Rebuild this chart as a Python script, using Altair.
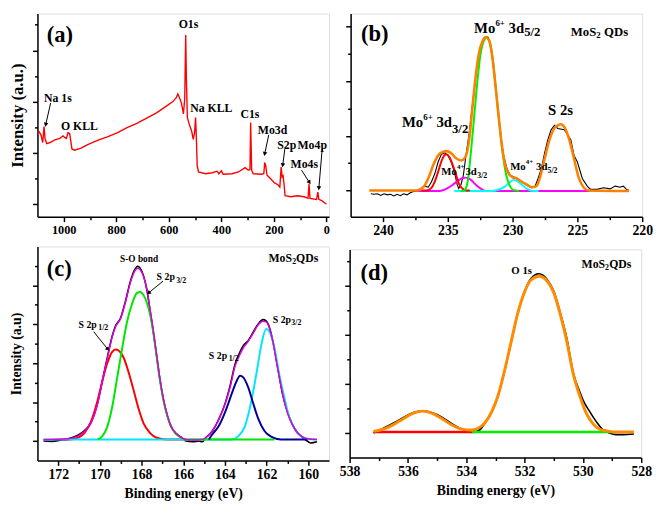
import altair as alt
import pandas as pd

FONT = "Liberation Serif"

# ---------------- (a) survey spectrum ----------------
A_SURVEY = [(1100, 2.39), (1093.6, 2.41), (1086.1, 2.34), (1079.9, 2.20), (1074.9, 2.51), (1071.1, 2.28),
            (1064.9, 2.18), (1052.4, 2.20), (1033.7, 2.25), (1014.9, 2.28), (1002.5, 2.33), (996.2, 2.30),
            (990.0, 2.28), (983.7, 2.39), (977.5, 2.375), (973.8, 2.25), (968.8, 2.075), (958.8, 2.05),
            (933.8, 2.09), (908.8, 2.16), (871.4, 2.24), (833.9, 2.31), (796.5, 2.39), (759.0, 2.49),
            (721.6, 2.575), (684.1, 2.675), (646.7, 2.78), (609.2, 2.91), (584.2, 3.0), (571.7, 3.075),
            (565.5, 3.15), (559.3, 3.075), (551.8, 2.97), (544.3, 2.76), (539.3, 3.06), (535.6, 4.30),
            (533.0, 3.44), (529.3, 2.69), (521.8, 2.55), (513.1, 2.425), (506.9, 2.26), (501.9, 2.39),
            (498.1, 2.69), (495.6, 2.375), (491.9, 1.75), (486.9, 1.625), (459.4, 1.59), (434.4, 1.61),
            (415.7, 1.64), (409.5, 1.59), (399.5, 1.65), (393.2, 1.58), (359.5, 1.59), (334.6, 1.625),
            (309.6, 1.71), (297.1, 1.66), (290.9, 1.675), (288.4, 2.59), (284.6, 1.66), (278.4, 1.59),
            (247.2, 1.58), (238.4, 1.59), (234.7, 1.81), (231.0, 1.75), (226.0, 1.56), (216.0, 1.51),
            (197.2, 1.41), (184.8, 1.375), (177.3, 1.33), (172.3, 1.72), (168.5, 1.53), (164.8, 1.55),
            (161.0, 1.375), (157.3, 1.16), (134.8, 1.14), (109.9, 1.16), (84.9, 1.14), (69.9, 1.11),
            (66.2, 1.39), (62.4, 1.11), (37.5, 1.09), (32.5, 1.23), (28.7, 1.09), (16.2, 1.06),
            (3.7, 1.01), (0.0, 1.0)]
A_LABELS_CENTER = [("Na 1s", 1022, 3.0, 12), ("O KLL", 940, 2.45, 12), ("O1s", 525, 4.43, 12),
                   ("Na KLL", 438, 2.80, 12), ("C1s", 291, 2.675, 12), ("Mo3d", 205, 2.363, 12),
                   ("S2p", 151, 2.075, 12), ("Mo4p", 54, 2.075, 12), ("Mo4s", 84, 1.70, 12)]
A_LABELS_LEFT = [("(a)", 1064.7, 4.156, 23)]
A_ARROWS = [(1050, 2.97, 1068, 2.56, 193), (219.5, 2.35, 234.4, 1.99, 192), (158.4, 2.07, 165.9, 1.77, 187),
            (94.7, 1.66, 65.9, 1.43, 147), (16.1, 2.07, 28.5, 1.32, 185)]

# ---------------- (b) Mo 3d ----------------
B_EXP = [(240.94, -0.06), (240.68, -0.07), (240.43, -0.06), (240.18, -0.09), (239.92, -0.06), (239.67, -0.08),
         (239.42, -0.07), (239.17, -0.10), (238.91, -0.07), (238.66, -0.094), (238.41, -0.06), (238.15, -0.08),
         (237.90, -0.04), (237.65, -0.02), (237.40, -0.01), (237.02, 0.03), (236.76, 0.08), (236.51, 0.06),
         (236.26, 0.16), (236.00, 0.31), (235.75, 0.52), (235.50, 0.66), (235.25, 0.69), (234.99, 0.64),
         (234.74, 0.52), (234.49, 0.34), (234.28, 0.11), (234.16, 0.035), (233.98, 0.11), (233.80, 0.28),
         (233.60, 0.64), (233.35, 1.05), (233.10, 1.58), (232.84, 2.11), (232.59, 2.52), (232.34, 2.72),
         (232.08, 2.81), (231.88, 2.80), (231.70, 2.64), (231.45, 2.22), (231.20, 1.64), (230.95, 1.05),
         (230.69, 0.64), (230.44, 0.40), (230.19, 0.28), (229.93, 0.25), (229.55, 0.19), (229.18, 0.135),
         (228.80, 0.08), (228.54, 0.05), (228.29, 0.06), (228.04, 0.22), (227.78, 0.40), (227.53, 0.69),
         (227.28, 0.93), (227.03, 1.11), (226.77, 1.19), (226.52, 1.135), (226.01, 1.11), (225.51, 0.93),
         (225.26, 0.64), (225.00, 0.52), (224.62, 0.22), (224.24, 0.08), (223.99, 0.02), (223.49, 0.02),
         (222.98, 0.05), (222.47, 0.03), (222.09, 0.08), (221.71, 0.06), (221.46, 0.08), (221.21, 0.02),
         (221.01, 0.0)]
B_FIT = [(241.06, 0.0), (237.40, 0.0), (236.89, 0.06), (236.51, 0.22), (236.13, 0.46), (235.75, 0.64),
         (235.37, 0.71), (235.07, 0.72), (234.74, 0.68), (234.36, 0.59), (233.98, 0.55), (233.65, 0.61),
         (233.35, 0.93), (233.10, 1.52), (232.84, 2.11), (232.59, 2.52), (232.34, 2.72), (232.08, 2.80),
         (231.83, 2.75), (231.58, 2.46), (231.33, 1.93), (231.07, 1.34), (230.82, 0.81), (230.57, 0.46),
         (230.31, 0.31), (230.06, 0.25), (229.68, 0.22), (229.30, 0.16), (228.92, 0.11), (228.54, 0.06),
         (228.16, 0.08), (227.91, 0.22), (227.53, 0.58), (227.15, 0.93), (226.77, 1.14), (226.52, 1.19),
         (226.27, 1.21), (226.01, 1.16), (225.63, 0.93), (225.26, 0.58), (224.88, 0.22), (224.50, 0.05),
         (224.12, 0.0), (221.01, -0.01)]
B_MO6_32 = [(237.0, 0), (236.64, 0), (236.26, 0.047), (236.00, 0.165), (235.75, 0.34), (235.50, 0.53),
            (235.25, 0.647), (235.07, 0.66), (234.87, 0.606), (234.61, 0.46), (234.36, 0.28), (234.11, 0.106),
            (233.85, 0.03), (233.60, 0), (233.3, 0)]
B_MO4_32 = [(237.4, -0.01), (235.62, -0.01), (235.12, 0.03), (234.61, 0.106), (234.23, 0.176), (233.85, 0.23),
            (233.60, 0.235), (233.22, 0.194), (232.84, 0.106), (232.46, 0.035), (232.08, -0.01), (224.0, -0.01)]
B_MO6_52 = [(234.0, -0.01), (233.73, 0), (233.47, 0.165), (233.22, 0.694), (232.97, 1.34), (232.72, 1.99),
            (232.46, 2.52), (232.21, 2.74), (232.01, 2.80), (231.78, 2.74), (231.53, 2.40), (231.27, 1.81),
            (231.02, 1.22), (230.77, 0.694), (230.52, 0.31), (230.26, 0.106), (230.01, 0.018), (229.76, 0),
            (229.5, -0.01)]
B_MO4_52 = [(234.5, -0.01), (231.58, -0.01), (231.07, 0.018), (230.57, 0.076), (230.19, 0.153), (229.93, 0.194),
            (229.68, 0.176), (229.30, 0.106), (228.92, 0.035), (228.42, -0.01), (228.0, -0.01)]
B_LABELS_LEFT = [("(b)", 241.70, 2.74, 23),
                 ("Mo", 232.97, 2.888, 15), ("6+", 231.33, 3.01, 9), ("3d", 230.31, 2.888, 15), ("5/2", 229.11, 2.83, 13),
                 ("Mo", 238.54, 1.165, 15), ("6+", 236.89, 1.288, 9), ("3d", 235.88, 1.165, 15), ("3/2", 234.68, 1.059, 13),
                 ("Mo", 235.50, 0.282, 11), ("4+", 234.29, 0.388, 7), ("3d", 233.64, 0.282, 11), ("3/2", 232.73, 0.229, 8),
                 ("Mo", 230.19, 0.371, 11), ("4+", 228.98, 0.476, 7), ("3d", 228.19, 0.371, 11), ("5/2", 227.31, 0.318, 8),
                 ("MoS", 225.51, 2.823, 13), ("2", 223.54, 2.78, 9), ("QDs", 222.94, 2.823, 13)]
B_LABELS_CENTER = [("S 2s", 226.30, 1.371, 15)]

# ---------------- (c) S 2p ----------------
C_EXP = [(172.71, 0.0), (172.31, -0.01), (171.92, 0.02), (171.53, 0.06), (171.29, 0.10), (171.06, 0.15),
         (170.74, 0.27), (170.43, 0.48), (170.11, 0.98), (169.88, 1.56), (169.64, 2.16), (169.41, 2.70),
         (169.25, 2.96), (169.01, 3.16), (168.78, 3.58), (168.54, 4.10), (168.31, 4.42), (168.19, 4.49),
         (168.07, 4.44), (167.91, 4.25), (167.75, 3.90), (167.60, 3.38), (167.44, 2.82), (167.28, 2.20),
         (167.13, 1.62), (166.97, 1.12), (166.81, 0.74), (166.58, 0.36), (166.34, 0.19), (166.10, 0.10),
         (165.87, 0.0), (165.55, -0.02), (165.24, 0.0), (165.08, -0.02), (164.92, 0.08), (164.61, 0.25),
         (164.30, 0.55), (163.98, 0.98), (163.75, 1.42), (163.51, 1.98), (163.35, 2.20), (163.12, 2.45),
         (162.88, 2.58), (162.64, 2.80), (162.41, 3.00), (162.17, 3.12), (162.02, 3.09), (161.86, 2.92),
         (161.70, 2.58), (161.47, 1.90), (161.23, 1.20), (160.99, 0.74), (160.76, 0.43), (160.52, 0.22),
         (160.29, 0.10), (160.05, 0.0), (159.89, -0.05), (159.58, -0.02)]
C_ENV = [(172.71, 0.04), (171.53, 0.06), (171.06, 0.126), (170.74, 0.25), (170.43, 0.46), (170.11, 0.964),
         (169.88, 1.55), (169.64, 2.14), (169.41, 2.68), (169.25, 2.935), (169.01, 3.145), (168.78, 3.56),
         (168.54, 4.07), (168.31, 4.386), (168.19, 4.44), (168.07, 4.40), (167.91, 4.235), (167.75, 3.90),
         (167.60, 3.40), (167.44, 2.85), (167.28, 2.22), (167.13, 1.635), (166.97, 1.13), (166.81, 0.755),
         (166.58, 0.377), (166.34, 0.19), (166.10, 0.09), (165.87, 0.04), (165.55, 0.025), (165.24, 0.025),
         (164.92, 0.084), (164.61, 0.25), (164.30, 0.545), (163.98, 0.964), (163.75, 1.38), (163.51, 1.93),
         (163.35, 2.14), (163.12, 2.39), (162.88, 2.56), (162.64, 2.77), (162.41, 2.98), (162.17, 3.08),
         (162.02, 3.06), (161.86, 2.90), (161.70, 2.56), (161.47, 1.887), (161.23, 1.216), (160.99, 0.71),
         (160.76, 0.42), (160.52, 0.21), (160.29, 0.11), (160.05, 0.06), (159.58, 0.04)]
C_SO_12 = [(171.84, 0.025), (171.21, 0.06), (170.74, 0.21), (170.43, 0.50), (170.11, 1.05), (169.88, 1.55),
           (169.64, 2.01), (169.41, 2.29), (169.25, 2.35), (169.09, 2.32), (168.86, 2.14), (168.62, 1.76),
           (168.38, 1.30), (168.15, 0.84), (167.91, 0.46), (167.60, 0.21), (167.28, 0.084), (166.81, 0.04),
           (165.9, 0.04)]
C_SO_32 = [(170.11, 0.04), (169.88, 0.126), (169.64, 0.377), (169.41, 0.88), (169.17, 1.635), (168.93, 2.39),
           (168.70, 3.06), (168.46, 3.52), (168.23, 3.80), (168.07, 3.83), (167.91, 3.75), (167.75, 3.56),
           (167.60, 3.27), (167.44, 2.79), (167.28, 2.18), (167.13, 1.59), (166.97, 1.09), (166.73, 0.587),
           (166.50, 0.29), (166.18, 0.11), (165.87, 0.04), (161.62, 0.04)]
C_S_12 = [(164.77, 0.04), (164.61, 0.168), (164.30, 0.377), (163.98, 0.755), (163.67, 1.216), (163.43, 1.55),
          (163.27, 1.677), (163.12, 1.635), (162.88, 1.38), (162.64, 0.964), (162.41, 0.587), (162.09, 0.25),
          (161.78, 0.11), (161.31, 0.04), (160.05, 0.04)]
C_S_32 = [(172.71, 0.04), (163.67, 0.04), (163.35, 0.126), (163.04, 0.377), (162.72, 1.05), (162.49, 1.72),
          (162.25, 2.47), (162.02, 2.876), (161.86, 2.81), (161.62, 2.39), (161.39, 1.72), (161.15, 1.13),
          (160.92, 0.63), (160.68, 0.335), (160.36, 0.126), (160.05, 0.06), (159.58, 0.04)]
C_LABELS_LEFT = [("(c)", 172.55, 4.25, 23),
                 ("S 2p", 167.28, 4.134, 10), ("3/2", 166.34, 4.067, 8),
                 ("S 2p", 171.03, 2.91, 10), ("1/2", 170.08, 2.85, 8),
                 ("S 2p", 161.70, 3.044, 10), ("3/2", 160.81, 2.977, 8),
                 ("S 2p", 164.77, 2.12, 10), ("1/2", 163.82, 2.055, 8),
                 ("MoS", 161.91, 4.61, 12), ("2", 160.77, 4.55, 8), ("QDs", 160.58, 4.61, 12)]
C_LABELS_CENTER = [("S-O bond", 168.12, 4.61, 9.5)]
C_ARROWS = [(166.97, 4.11, 167.64, 3.815, 231), (170.30, 2.81, 169.64, 2.37, 139)]

# ---------------- (d) O 1s ----------------
D_EXP = [(537.18, 0.0), (536.84, 0.10), (536.51, 0.20), (536.17, 0.313), (535.83, 0.413), (535.49, 0.453),
         (535.16, 0.413), (534.82, 0.32), (534.48, 0.187), (534.15, 0.08), (533.81, 0.013), (533.53, 0.067),
         (533.36, 0.20), (533.13, 0.42), (532.91, 0.75), (532.69, 1.25), (532.46, 1.85), (532.24, 2.43),
         (532.01, 2.88), (531.79, 3.15), (531.51, 3.253), (531.22, 3.133), (531.00, 2.90), (530.78, 2.467),
         (530.55, 1.933), (530.33, 1.233), (530.10, 0.833), (529.99, 0.667), (529.76, 0.433), (529.54, 0.233),
         (529.31, 0.067), (529.09, 0.0), (528.87, -0.033), (528.64, -0.033), (528.25, -0.02)]
D_FIT = [(537.18, 0.033), (536.84, 0.08), (536.51, 0.167), (536.17, 0.287), (535.83, 0.40), (535.49, 0.447),
         (535.16, 0.40), (534.82, 0.287), (534.48, 0.16), (534.15, 0.08), (533.81, 0.06), (533.53, 0.12),
         (533.36, 0.213), (533.13, 0.433), (532.91, 0.767), (532.69, 1.267), (532.46, 1.867), (532.24, 2.433),
         (532.01, 2.867), (531.79, 3.12), (531.51, 3.20), (531.22, 3.10), (531.00, 2.867), (530.78, 2.433),
         (530.55, 1.867), (530.33, 1.20), (530.10, 0.747), (529.88, 0.40), (529.65, 0.187), (529.43, 0.08),
         (529.20, 0.047), (528.87, 0.02), (528.25, 0.02)]
D_BASE_RED = [(537.18, 0.02), (533.81, 0.02)]
D_BASE_GREEN = [(533.81, 0.02), (529.0, 0.02)]
D_LABELS_LEFT = [("(d)", 537.63, 3.133, 23),
                 ("MoS", 530.045, 3.367, 12), ("2", 529.24, 3.32, 8), ("QDs", 529.10, 3.367, 12)]
D_LABELS_CENTER = [("O 1s", 532.10, 3.253, 11)]

# ---------------- helpers ----------------
def xaxis(major, minor, label_size, title=None):
    vals = sorted(set(major + minor))
    test = f"indexof({list(major)}, datum.value) >= 0"
    kw = dict(values=vals, format="d", labelExpr=f"({test}) ? datum.label : ''",
              tickSize={"condition": {"test": test, "value": 5}, "value": 3},
              labelFont=FONT, labelFontWeight="bold", labelFontSize=label_size, labelColor="black",
              labelFlush=False, labelOverlap=False, labelPadding=2,
              domainColor="black", domainWidth=1.5, tickColor="black", tickWidth=1.5, grid=False,
              titleFont=FONT, titleFontSize=14, titleFontWeight="bold", titleColor="black", titlePadding=6)
    kw["title"] = title
    return alt.Axis(**kw)


def yaxis(major, minor, title=None, title_size=17, title_pad=5):
    vals = sorted(set(major + minor))
    test = f"indexof({list(major)}, datum.value) >= 0"
    kw = dict(values=vals, labels=False,
              tickSize={"condition": {"test": test, "value": 5}, "value": 3},
              domainColor="black", domainWidth=1.5, tickColor="black", tickWidth=1.5, grid=False,
              titleFont=FONT, titleFontSize=title_size, titleFontWeight="bold", titleColor="black",
              titlePadding=title_pad)
    kw["title"] = title
    return alt.Axis(**kw)


def panel(curves, left_lbl, center_lbl, arrows, xdom, ydom, xax, yax, w, h):
    xs = alt.Scale(domain=xdom, reverse=True, nice=False, zero=False)
    ys = alt.Scale(domain=ydom, nice=False, zero=False)
    X = alt.X("be:Q", scale=xs, axis=xax)
    Y = alt.Y("v:Q", scale=ys, axis=yax)
    layers = []
    for pts, color, width, interp in curves:
        df = pd.DataFrame(pts, columns=["be", "v"])
        layers.append(alt.Chart(df).mark_line(color=color, strokeWidth=width, interpolate=interp,
                                              clip=True).encode(x=X, y=Y))
    if arrows:
        adf = pd.DataFrame(arrows, columns=["be", "v", "be2", "v2", "ang"])
        layers.append(alt.Chart(adf).mark_rule(color="black", strokeWidth=1).encode(
            x=X, y=Y, x2=alt.X2("be2:Q"), y2=alt.Y2("v2:Q")))
        layers.append(alt.Chart(adf).mark_point(shape="triangle", filled=True, color="black",
                                                opacity=1, size=22).encode(
            x=alt.X("be2:Q", scale=xs, axis=xax), y=alt.Y("v2:Q", scale=ys, axis=yax),
            angle=alt.Angle("ang:Q", scale=None)))
    for lbls, align in ((left_lbl, "left"), (center_lbl, "center")):
        if lbls:
            tdf = pd.DataFrame(lbls, columns=["t", "be", "v", "s"])
            layers.append(alt.Chart(tdf).mark_text(align=align, baseline="alphabetic", font=FONT,
                                                   fontWeight="bold", color="black").encode(
                x=X, y=Y, text="t:N", size=alt.Size("s:Q", scale=None)))
    return alt.layer(*layers).properties(width=w, height=h)


pa = panel([(A_SURVEY, "#ff0000", 1.4, "linear")], A_LABELS_LEFT, A_LABELS_CENTER, A_ARROWS,
           [-10, 1100], [0.75, 4.72],
           xaxis([1000, 800, 600, 400, 200, 0], [900, 700, 500, 300, 100], 12.5),
           yaxis([1, 2, 3, 4], [1.5, 2.5, 3.5, 4.5], "Intensity (a.u.)", 17, 5), 297, 207)

pb = panel([(B_EXP, "black", 1.1, "linear"), (B_MO4_32, "#ff00ff", 2, "monotone"),
            (B_MO4_52, "#00ffff", 2, "monotone"), (B_MO6_32, "#ff0000", 2, "monotone"),
            (B_MO6_52, "#00ee00", 2, "monotone"), (B_FIT, "#ff8000", 2.6, "monotone")],
           B_LABELS_LEFT, B_LABELS_CENTER, None,
           [220, 242.5], [-0.48, 3.235],
           xaxis([240, 235, 230, 225, 220], [237.5, 232.5, 227.5, 222.5], 14),
           yaxis([0, 1, 2, 3], [0.5, 1.5, 2.5]), 297, 207)

pc = panel([(C_EXP, "black", 1.6, "monotone"), (C_SO_12, "#ff0000", 2, "monotone"),
            (C_S_32, "#00e5ff", 2, "monotone"), (C_SO_32, "#00e600", 2, "monotone"),
            (C_S_12, "#000099", 2, "monotone"), (C_ENV, "#dd00dd", 1.5, "monotone")],
           C_LABELS_LEFT, C_LABELS_CENTER, C_ARROWS,
           [159, 173], [-0.5, 5.0],
           xaxis([172, 170, 168, 166, 164, 162, 160], [171, 169, 167, 165, 163, 161], 14, "Binding energy (eV)"),
           yaxis([0, 1, 2, 3, 4], [0.5, 1.5, 2.5, 3.5, 4.5], "Intensity (a.u)", 14, 8), 297, 218)

pd_ = panel([(D_EXP, "black", 1.6, "monotone"), (D_BASE_RED, "#ff0000", 2.5, "linear"),
             (D_BASE_GREEN, "#00ee00", 2.5, "linear"), (D_FIT, "#ff8c00", 3, "monotone")],
            D_LABELS_LEFT, D_LABELS_CENTER, None,
            [528, 538], [-0.5, 3.75],
            xaxis([538, 536, 534, 532, 530, 528], [537, 535, 533, 531, 529], 14, "Binding energy (eV)"),
            yaxis([0, 1, 2, 3], [0.5, 1.5, 2.5, 3.5]), 297, 212)

top = alt.hconcat(pa, pb, spacing=14)
bottom = alt.hconcat(pc, pd_, spacing=9, center=True)
chart = alt.vconcat(top, bottom, spacing=7).properties(padding=0).configure_view(
    stroke="black", strokeWidth=1.5).configure_axis(
    labelFont=FONT, labelFontWeight="bold", titleFont=FONT, titleFontWeight="bold").configure(
    background="white", padding=0)

chart.save("out.html", embed_options={"renderer": "svg", "actions": False})
